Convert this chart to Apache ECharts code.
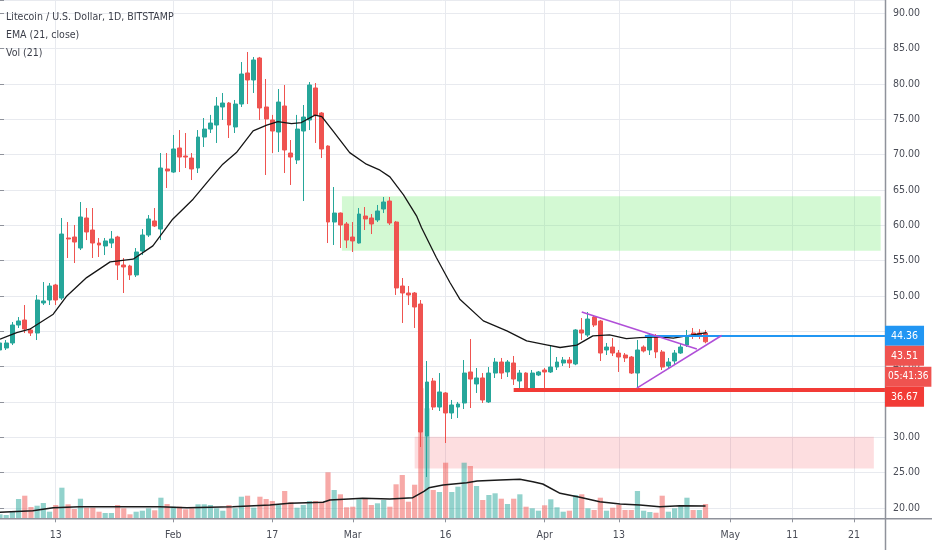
<!DOCTYPE html>
<html><head><meta charset="utf-8">
<script src="https://cdn.jsdelivr.net/npm/echarts@6/dist/echarts.min.js"></script>
<style>html,body{margin:0;padding:0;background:#fff}#c{width:932px;height:550px}</style>
</head><body><div id="c"></div>
<script>
// ---------- data ----------
const startDate = [2020, 0, 4];
const dayCount = 144;
const tickDates = ['2020-01-13','2020-02-01','2020-02-17','2020-03-01','2020-03-16','2020-04-01','2020-04-13','2020-05-01','2020-05-11','2020-05-21'];
const tickLabels = ['13','Feb','17','Mar','16','Apr','13','May','11','21'];

const opens = [42.35,42.63,43.34,45.88,46.59,45.18,44.75,49.00,49.42,51.54,
49.70,58.19,58.33,56.77,61.02,59.32,57.48,57.06,57.48,58.33,
54.37,54.23,52.96,56.35,58.61,60.60,59.46,67.95,67.52,70.92,
69.78,69.50,68.09,72.47,73.60,74.17,76.72,77.28,73.89,77.14,
81.53,80.54,83.65,76.72,74.88,73.18,76.86,70.21,69.22,73.32,
74.88,79.41,75.87,71.20,60.45,61.72,60.17,58.33,57.48,61.30,
61.02,60.74,62.29,63.42,60.45,51.40,50.41,50.41,48.85,30.18,
37.96,34.28,36.27,33.44,34.28,34.85,39.24,37.54,38.39,35.00,
39.09,40.65,39.24,40.51,37.96,39.09,36.97,38.81,39.52,39.24,
39.94,40.51,40.93,40.37,45.18,44.47,47.01,46.45,42.35,42.77,
41.92,41.64,41.36,39.09,42.77,42.35,44.33,42.07,40.09,40.79,
41.92,43.05,44.75,44.75,44.75];
const closes = [43.34,43.34,45.88,46.45,45.32,44.75,49.42,49.28,51.40,49.42,
58.75,58.05,57.62,61.16,59.04,57.48,57.20,57.77,58.05,54.37,
54.09,52.96,56.21,58.61,60.88,59.89,68.09,67.67,70.78,69.64,
69.64,67.95,72.47,73.60,74.45,76.86,77.28,74.17,77.14,81.38,
80.54,83.37,76.58,75.02,73.32,77.42,70.64,69.64,73.60,75.30,
79.83,75.58,70.78,60.45,61.72,60.03,57.90,57.77,61.58,60.88,
60.17,62.01,63.28,60.31,51.12,50.41,50.13,48.43,30.75,37.82,
34.28,36.41,33.44,34.57,34.71,39.09,38.24,38.39,35.28,39.09,
40.65,39.09,40.65,38.24,39.09,36.97,39.09,39.24,39.24,39.94,
40.65,40.93,40.51,45.18,44.75,46.73,45.88,41.92,42.77,41.92,
41.36,41.22,39.09,42.35,42.21,44.47,42.07,39.94,40.65,41.92,
42.77,44.19,44.33,44.47,43.51];
const lows = [41.92,42.35,43.05,45.46,44.75,44.33,43.76,48.71,48.71,48.71,
49.42,55.36,54.65,56.49,57.90,55.36,55.50,55.78,56.77,52.25,
50.41,52.25,52.67,55.78,58.33,59.74,57.90,65.26,67.40,67.52,
68.09,66.39,67.38,71.06,73.04,71.63,74.88,72.33,73.04,76.72,
77.14,78.70,74.88,67.10,70.21,70.35,67.38,65.69,68.65,63.42,
73.46,71.63,69.50,57.48,57.20,56.77,56.77,56.21,57.40,59.32,
58.75,60.45,61.72,60.03,50.13,46.17,48.71,45.46,28.63,24.38,
33.86,33.72,29.19,32.59,32.73,34.00,34.14,36.27,34.85,34.85,
38.39,38.24,38.53,37.40,36.97,36.83,36.83,38.66,36.97,39.10,
39.52,40.09,39.80,40.20,43.76,44.19,45.60,40.79,41.64,41.50,
39.24,40.65,38.95,36.97,42.00,41.64,41.20,39.52,39.80,40.37,
41.80,42.77,43.90,43.90,43.30];
const highs = [44.04,43.76,46.31,47.01,48.71,45.46,50.12,51.96,51.82,51.70,
61.02,60.45,60.03,63.28,62.43,62.43,58.19,58.19,59.18,58.50,
55.36,54.40,56.77,59.46,61.44,62.43,70.21,70.21,72.76,73.46,
73.04,70.21,73.46,75.16,75.60,78.13,78.70,77.42,77.71,83.08,
84.50,83.79,83.80,80.68,75.60,79.26,79.83,72.05,75.60,77.00,
80.25,80.11,76.00,71.30,65.40,61.80,60.45,60.45,62.43,62.57,
61.58,62.86,63.99,63.99,60.60,52.53,51.40,50.55,49.42,40.79,
38.39,39.09,36.40,35.28,35.00,40.93,43.90,39.80,39.09,39.94,
41.22,41.22,40.93,41.50,39.52,39.20,39.52,39.38,39.80,43.05,
41.36,41.36,41.36,45.30,46.87,47.72,47.30,46.60,43.34,44.04,
42.35,41.92,41.50,43.76,43.00,44.75,44.60,42.35,41.22,42.35,
43.34,45.18,45.46,45.30,45.18];

const volumes = [4,3.3,6.3,19.3,22.6,11.3,12.6,15.3,6.6,13.3,
30.6,14,9.3,19.6,10.6,10.6,6.6,5.3,5.3,13.3,
10,4,6.6,7.6,10,8,20.6,14.3,11.6,11.6,
9,10,14,14,13.3,10,7.6,13.3,10,21.6,
22.6,10.6,21.6,19.3,17.3,13.3,27.3,16,10.6,13.3,
17.3,17.3,16.6,46,28.3,24,11,11.6,19,20,
13.3,15,18.3,11.6,34,43.3,16.6,33.6,130,110,
28.3,26.3,55.6,26.3,31.6,55.6,52.3,32.3,18.3,23.3,
25,19.6,14.3,19.6,24,11.6,10,7.6,13,19,
11,6.6,7.6,23.3,24,10,8.3,20.6,7.6,10.6,
13.3,8.3,8.3,27.3,7.6,6.3,5.6,22.6,6.6,10,
13.3,20.6,8.3,8.3,14.3];
const volUp = [1,1,1,1,0,0,1,1,1,0, 1,0,0,1,0,0,0,1,1,0, 0,0,1,1,1,0,1,0,1,0,
0,0,1,1,1,1,1,0,1,1, 0,1,0,0,0,1,0,0,1,1, 1,0,0,0,1,0,0,0,1,0,
0,1,1,0,0,0,0,0,0,1, 0,1,0,1,1,1,0,1,0,1, 1,0,1,0,1,0,1,1,0,1,
1,1,0,1,0,1,0,0,1,0, 0,0,0,1,1,1,0,0,1,1, 1,1,0,1,0];

// EMA(21) line: [day index, price]
const emaLine = [[0,43.88],[2.7,44.81],[4.8,45.29],[8.6,47.41],[10.8,50.0],[14.0,52.59],[17.8,54.81],[21.5,55.19],[24.7,57.08],[27.9,60.85],[31.2,63.68],[33.9,66.51],[36.0,68.63],[38.2,70.27],[40.9,73.34],[43.1,74.15],[44.9,74.66],[47.1,74.37],[48.7,74.52],[50.9,75.56],[52.0,75.37],[53.8,73.34],[56.5,70.27],[59.2,68.63],[61.4,67.78],[63.0,66.84],[65.2,64.3],[67.3,61.32],[68.1,59.67],[70.5,55.43],[72.7,51.89],[74.3,49.54],[78.1,46.47],[81.9,45.06],[85.1,43.64],[88.3,43.08],[90.5,42.7],[93.2,43.04],[95.8,44.34],[98.5,44.49],[101.2,43.96],[103.4,44.1],[106.6,44.2],[108.8,44.02],[110.9,44.34],[114.2,44.81]];
// Volume MA(21): [day index, volume]
const volMaLine = [[0,6],[5.3,7.6],[8.6,10.6],[12.9,11.6],[25.8,11.6],[30.2,10.6],[37.6,11.6],[43.6,13.3],[46.8,15],[52.2,16],[53.3,18.3],[58.6,20],[63,19.3],[66.7,20.6],[68.5,27],[69.3,30.5],[71.6,33.3],[75.4,35.6],[77.1,37.3],[80.8,38.3],[84,39],[86.1,36.6],[87.7,34.3],[90.5,25],[93.7,21],[96.9,16.6],[100.2,14.3],[103.4,13.3],[106.6,11.6],[109.9,12.6],[114,12.3]];

// drawings (day index, price)
const greenZone = [[55.25, 64.1], [142.3, 56.4]];
const pinkZone = [[67.0, 30.08], [141.2, 25.6]];
const resistance = [[104.2, 44.36], [143, 44.36]];
const support = [[83.0, 36.67], [143, 36.67]];
const triUpper = [[94.0, 47.72], [112.6, 42.49]];
const triLower = [[102.9, 36.97], [116.6, 44.4]];
const countdown = '05:41:36';
const titleLines = ['Litecoin / U.S. Dollar, 1D, BITSTAMP', 'EMA (21, close)', 'Vol (21)'];

// ---------- styles ----------
const FONT = "'DejaVu Sans Condensed','Liberation Sans Narrow','Roboto',sans-serif";
const UP = '#26a69a', DN = '#ef5350';
const UPA = 'rgba(38,166,154,0.5)', DNA = 'rgba(239,83,80,0.5)';
const BLUE = '#2196f3', RED = '#f23b36', PURPLE = '#b04fd8';
const GRIDC = '#e8eaef', AXISC = '#8f929b', TXT = '#4a4d57';

const dates = [];
for (let i = 0; i < dayCount; i++) {
  const d = new Date(Date.UTC(startDate[0], startDate[1], startDate[2] + i));
  dates.push(d.toISOString().slice(0, 10));
}
const isTick = (i, v) => tickDates.indexOf(v) >= 0;

const chart = echarts.init(document.getElementById('c'), null, {renderer: 'canvas'});
const option = {
  animation: false,
  backgroundColor: '#ffffff',
  title: titleLines.map((t, i) => ({
    text: t, left: 6, top: 11 + i * 18, padding: 0,
    textStyle: {fontSize: 10.5, fontWeight: 'normal', color: '#3c3f4a', fontFamily: FONT, lineHeight: 13}
  })),
  grid: [
    {left: 0, right: 47, top: 0, height: 508},
    {left: 0, right: 47, top: 0, height: 518.3},
    {left: 0, right: 47, top: 368.3, height: 150}
  ],
  xAxis: [
    {type: 'category', gridIndex: 0, data: dates, boundaryGap: false, show: false},
    {type: 'value', gridIndex: 0, min: 0, max: dayCount - 1, show: false},
    {type: 'category', gridIndex: 1, data: dates, boundaryGap: false,
      axisLine: {show: false},
      axisTick: {show: true, interval: isTick, length: 4, lineStyle: {color: AXISC}},
      axisLabel: {interval: isTick, formatter: v => { const k = tickDates.indexOf(v); return k >= 0 ? tickLabels[k] : ''; },
        color: TXT, fontSize: 10.5, fontFamily: FONT, margin: 11},
      splitLine: {show: true, interval: isTick, lineStyle: {color: GRIDC, width: 1}}},
    {type: 'category', gridIndex: 2, data: dates, boundaryGap: false, show: false},
    {type: 'value', gridIndex: 2, min: 0, max: dayCount - 1, show: false}
  ],
  yAxis: [
    {type: 'value', gridIndex: 0, position: 'right', min: 20, max: 91.853, interval: 5,
      axisLine: {show: false},
      axisTick: {show: true, length: 4, lineStyle: {color: AXISC}},
      axisLabel: {formatter: v => (Math.abs(v / 5 - Math.round(v / 5)) < 1e-6 ? v.toFixed(2) : ''),
        color: TXT, fontSize: 10.5, fontFamily: FONT, margin: 8},
      splitLine: {show: true, lineStyle: {color: GRIDC, width: 1}}},
    {type: 'value', gridIndex: 1, show: false},
    {type: 'value', gridIndex: 2, min: 0, max: 150, show: false}
  ],
  series: [
    {type: 'line', xAxisIndex: 1, yAxisIndex: 0, data: [], silent: true,
      markArea: {silent: true, data: [
        [{coord: greenZone[0], itemStyle: {color: 'rgba(110,235,110,0.30)'}}, {coord: greenZone[1]}],
        [{coord: pinkZone[0], itemStyle: {color: 'rgba(242,60,70,0.17)'}}, {coord: pinkZone[1]}]
      ]}},
    {type: 'bar', xAxisIndex: 3, yAxisIndex: 2, barWidth: 5.2, silent: true,
      data: volumes.map((v, i) => ({value: v, itemStyle: {color: volUp[i] ? UPA : DNA}}))},
    {type: 'line', xAxisIndex: 4, yAxisIndex: 2, data: volMaLine, symbol: 'none', silent: true,
      lineStyle: {color: '#1b1b1b', width: 1.5}},
    {type: 'candlestick', xAxisIndex: 0, yAxisIndex: 0, barWidth: 4.4, silent: true,
      data: opens.map((o, i) => [o, closes[i], lows[i], highs[i]]),
      itemStyle: {color: UP, color0: DN, borderColor: UP, borderColor0: DN, borderWidth: 1}},
    {type: 'line', xAxisIndex: 1, yAxisIndex: 0, data: emaLine, symbol: 'none', silent: true,
      lineStyle: {color: '#161616', width: 1.3}},
    {type: 'line', xAxisIndex: 1, yAxisIndex: 0, data: [], silent: true,
      markLine: {silent: true, symbol: 'none', animation: false, label: {show: false},
        lineStyle: {type: 'solid'},
        data: [
          [{coord: resistance[0], lineStyle: {color: BLUE, width: 2, type: 'solid'}}, {coord: resistance[1]}],
          [{coord: support[0], lineStyle: {color: RED, width: 4, type: 'solid'}}, {coord: support[1]}],
          [{coord: triUpper[0], lineStyle: {color: PURPLE, width: 1.5, type: 'solid'}}, {coord: triUpper[1]}],
          [{coord: triLower[0], lineStyle: {color: PURPLE, width: 1.5, type: 'solid'}}, {coord: triLower[1]}]
        ]}}
  ]
};
chart.setOption(option);

// axis frame + price tags placed through the chart's own scales
const axisX = chart.convertToPixel({xAxisIndex: 1}, dayCount - 1);
const baseY = chart.convertToPixel({yAxisIndex: 2}, 0);
const lastPrice = closes[closes.length - 1];
const tags = [
  {value: resistance[0][1], bg: BLUE},
  {value: lastPrice, bg: DN, extra: countdown},
  {value: support[0][1], bg: RED}
].map(t => Object.assign(t, {y: chart.convertToPixel({yAxisIndex: 0}, t.value)}))
 .sort((a, b) => a.y - b.y);
const H = 20;
const g = [
  {type: 'line', z: 50, shape: {x1: axisX + 0.5, y1: 0, x2: axisX + 0.5, y2: 550}, style: {stroke: AXISC, lineWidth: 1.5}},
  {type: 'line', z: 50, shape: {x1: 0, y1: baseY + 0.5, x2: 932, y2: baseY + 0.5}, style: {stroke: AXISC, lineWidth: 1.5}}
];
let prevBottom = -1e9;
tags.forEach(t => {
  let top = Math.max(t.y - H / 2, prevBottom);
  g.push({type: 'text', z: 100, x: axisX, y: top,
    style: {text: t.value.toFixed(2), fill: '#fff', backgroundColor: t.bg, padding: [4, 6, 4, 6],
      font: '10.5px ' + FONT, lineHeight: 12, verticalAlign: 'top', align: 'left'}});
  prevBottom = top + H;
  if (t.extra) {
    const top2 = prevBottom + 1;
    g.push({type: 'text', z: 100, x: axisX, y: top2,
      style: {text: t.extra, fill: '#fff', backgroundColor: t.bg, padding: [4, 3, 4, 3],
        font: '10px ' + FONT, lineHeight: 12, verticalAlign: 'top', align: 'left'}});
    prevBottom = top2 + H;
  }
});
chart.setOption({graphic: g});
</script>
</body></html>
